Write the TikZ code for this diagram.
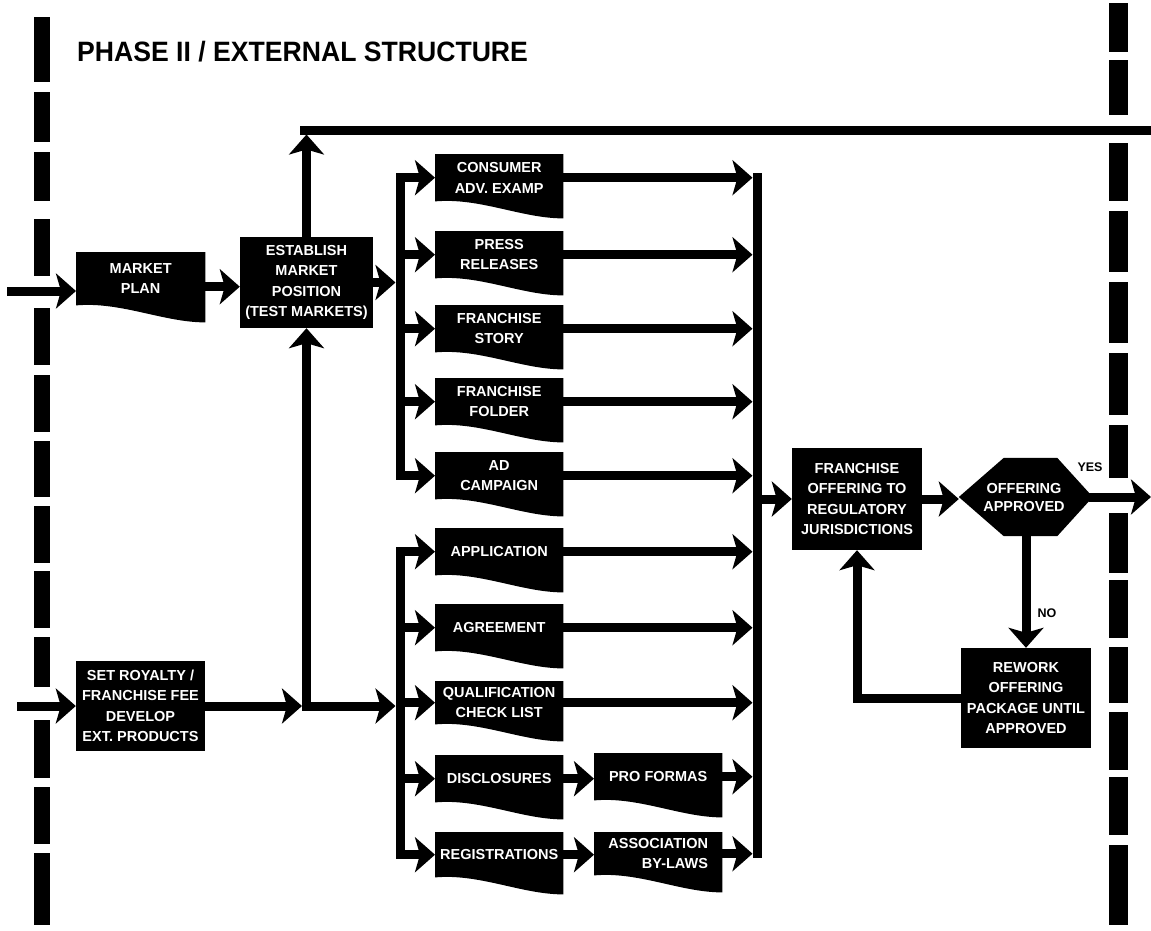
\documentclass[tikz,border=0pt]{standalone}
\usepackage{fontspec}
\setmainfont{Liberation Sans}
\usetikzlibrary{arrows.meta,backgrounds}
\begin{document}
\begin{tikzpicture}[x=1pt,y=-1pt,
  every node/.style={inner sep=0pt},
  txt/.style={text=white,align=center,font=\bfseries\fontsize{14.5}{20.5}\selectfont},
  bx/.style={txt,fill=black},
  doc/.style={txt,minimum width=128pt,minimum height=47pt,anchor=north west},
  lab/.style={font=\bfseries\fontsize{12.5}{14}\selectfont},
  line/.style={line width=9pt,line join=miter},
  bus/.style={line width=9pt,line cap=rect},
  conn/.style={line width=9pt,line join=miter,-{Stealth[length=20pt,width=35pt,inset=5pt]}}
]
\useasboundingbox (0,0) rectangle (1151,930);

% frame bars
\foreach \a/\b in {17/82,92/142,152/201,219/276,308/365,375/432,441/497,506/563,571/628,637/687,720/778,787/844,853/925}
  \fill (34,\a) rectangle (50,\b);
\foreach \a/\b in {3/52,60/115,143/201,211/272,282/343,353/415,425/478,513/573,580/638,647/703,712/770,777/835,845/925}
  \fill (1109,\a) rectangle (1128,\b);

% title
\node[anchor=base west] (title) at (77,61) {\scalebox{0.95}[1]{\bfseries\fontsize{28}{30}\selectfont PHASE II / EXTERNAL STRUCTURE}};

% left column
\node[doc,minimum width=129pt,minimum height=53pt] (mp) at (76,252) {MARKET\\PLAN};
\node[bx,minimum width=133pt,minimum height=91pt] (es) at (306.5,282.5) {ESTABLISH\\MARKET\\POSITION\\(TEST MARKETS)};
\node[bx,minimum width=129pt,minimum height=90pt] (sr) at (140.5,706) {SET ROYALTY /\\FRANCHISE FEE\\DEVELOP\\EXT. PRODUCTS};

% documents
\node[doc] (c1) at (435,154) {CONSUMER\\ADV. EXAMP};
\node[doc] (c2) at (435,231) {PRESS\\RELEASES};
\node[doc] (c3) at (435,305) {FRANCHISE\\STORY};
\node[doc] (c4) at (435,378) {FRANCHISE\\FOLDER};
\node[doc] (c5) at (435,452) {AD\\CAMPAIGN};
\node[doc] (d1) at (435,528) {APPLICATION};
\node[doc] (d2) at (435,604) {AGREEMENT};
\node[doc,minimum height=43pt] (d3) at (435,681) {QUALIFICATION\\CHECK LIST};
\node[doc] (d4) at (435,755) {DISCLOSURES};
\node[doc,minimum height=45pt] (d5) at (435,832) {REGISTRATIONS};
\node[doc] (p1) at (594,753) {PRO FORMAS};
\node[doc,minimum height=43pt,align=right] (p2) at (594,832) {ASSOCIATION\\BY-LAWS};

% right part
\node[bx,minimum width=130pt,minimum height=102pt] (fo) at (857,499) {FRANCHISE\\OFFERING TO\\REGULATORY\\JURISDICTIONS};
\node[txt,font=\bfseries\fontsize{14.5}{18}\selectfont,minimum width=130pt,minimum height=78pt] (oa) at (1024,497) {OFFERING\\APPROVED};
\node[bx,minimum width=130pt,minimum height=100pt] (rw) at (1026,698) {REWORK\\OFFERING\\PACKAGE UNTIL\\APPROVED};
\node[lab] (yes) at (1090,467) {YES};
\node[lab] (no) at (1047,613) {NO};

\begin{scope}[on background layer]
\fill[white] (0,0) rectangle (1151,930);
\foreach \n in {mp,c1,c2,c3,c4,c5,d1,d2,d3,d4,d5,p1,p2}
  \fill[black] (\n.north west) -- (\n.north east) -- ([yshift=-17pt]\n.south east)
     .. controls +(-42,0) and +(45,-4) .. (\n.south west) -- cycle;
\fill[black] (oa.west) -- ([xshift=45pt]oa.north west) -- ([xshift=-32pt]oa.north east) -- ([yshift=4pt]oa.east) -- ([yshift=-4pt]oa.east) -- ([xshift=-32pt]oa.south east) -- ([xshift=45pt]oa.south west) -- cycle;
\end{scope}

% coordinates
\coordinate (in1) at (7,291);
\coordinate (in2) at (17,706);
\coordinate (tl) at (300,130);
\coordinate (tr) at (1151,130);
\coordinate (ubx) at (400,0);
\coordinate (lbx) at (400,0);
\coordinate (rbx) at (757,0);
\coordinate (j1) at (es.south |- sr.east);
\coordinate (yesend) at (1151,497);

% connectors
\draw[line] (tl) -- (tr);
\draw[conn] (in1) -- (in1 -| mp.west);
\draw[conn] (in2) -- (sr.west);
\draw[conn] ([yshift=-8pt]mp.east) -- ([yshift=-8pt]mp.east -| es.west);
\draw[conn] (es.north) -- ([yshift=-4.5pt]es.north |- tl);
\draw[conn] (sr.east) -- ([xshift=-4.5pt]j1);
\draw[conn] ([yshift=-4.5pt]j1) -- (es.south);
\draw[conn] (j1) -- ([xshift=-4.5pt]j1 -| lbx);
\draw[conn] (es.east) -- ([xshift=-4.5pt]es.east -| ubx);

\draw[bus] (c1.west -| ubx) -- (c5.west -| ubx);
\draw[bus] (d1.west -| lbx) -- (d5.west -| lbx);
\draw[bus] (c1.east -| rbx) -- (p2.east -| rbx);

\foreach \n in {c1,c2,c3,c4,c5} \draw[conn] (\n.west -| ubx) -- (\n.west);
\foreach \n in {d1,d2,d3,d4,d5} \draw[conn] (\n.west -| lbx) -- (\n.west);
\foreach \n in {c1,c2,c3,c4,c5,d1,d2,d3,p1,p2} \draw[conn] (\n.east) -- ([xshift=-4.5pt]\n.east -| rbx);
\draw[conn] (d4.east) -- (d4.east -| p1.west);
\draw[conn] (d5.east) -- (d5.east -| p2.west);

\draw[conn] (fo.west -| rbx) -- (fo.west);
\draw[conn] (fo.east) -- (fo.east -| oa.west);
\draw[conn] (oa.east) -- (yesend);
\draw[conn] (rw.north |- oa.south) -- (rw.north);
\draw[conn] (rw.west) -| (fo.south);
\end{tikzpicture}
\end{document}
